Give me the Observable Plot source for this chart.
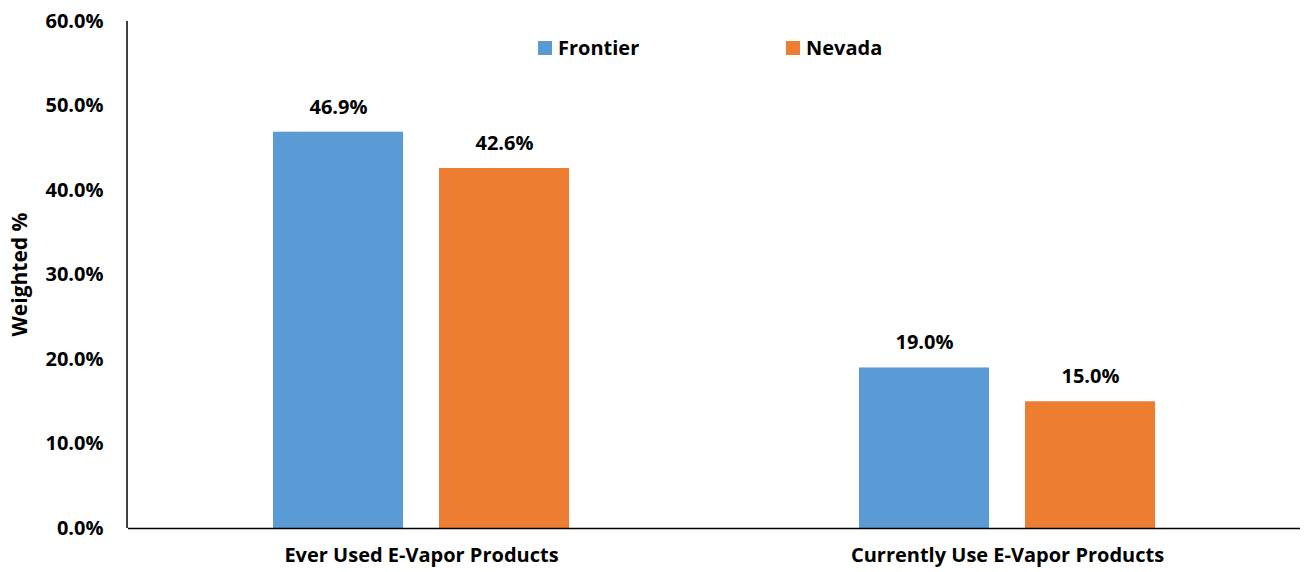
<!DOCTYPE html>
<html>
<head>
<meta charset="utf-8">
<script src="https://cdn.jsdelivr.net/npm/d3@7"></script>
<script src="https://cdn.jsdelivr.net/npm/@observablehq/plot@0.6"></script>
<style>
  body { margin: 0; background: #fff; }
  #wrap { position: relative; width: 1308px; height: 572px; font-family: "Open Sans", sans-serif; }
  #legend { position: absolute; top: 34px; left: 0; width: 1308px; height: 28px; font-weight: bold; font-size: 20px; color: #000; }
  .item { position: absolute; display: flex; align-items: center; }
  .sw { width: 14px; height: 14px; margin-right: 6px; }
</style>
</head>
<body>
<div id="wrap">
  <div id="chart"></div>
  <div id="legend"></div>
</div>
<script>
const categories = ["Ever Used E-Vapor Products", "Currently Use E-Vapor Products"];
const series = ["Frontier", "Nevada"];
const frontierValues = [46.9, 19.0];
const nevadaValues = [42.6, 15.0];
const colors = ["#5B9BD5", "#ED7D31"];
const yTicks = [0, 10, 20, 30, 40, 50, 60];

const data = [];
categories.forEach((c, i) => {
  data.push({category: c, series: series[0], value: frontierValues[i]});
  data.push({category: c, series: series[1], value: nevadaValues[i]});
});

const marginLeft = 127, marginRight = 8, marginTop = 21, marginBottom = 44;
const font = "'Open Sans', sans-serif";
const fs = 20;

const chart = Plot.plot({
  width: 1308,
  height: 572,
  marginLeft, marginRight, marginTop, marginBottom,
  style: {fontFamily: font, fontSize: fs + "px", fontWeight: "bold", color: "#000", background: "#fff"},
  fx: {domain: categories, padding: 0, label: null},
  x: {domain: series, paddingInner: 0.2156, paddingOuter: 0.865, axis: null},
  y: {domain: [0, 60], label: null},
  color: {domain: series, range: colors},
  marks: [
    Plot.axisY(yTicks, {tickFormat: d => d.toFixed(1) + "%", tickSize: 0, tickPadding: 25, fontSize: fs, fontWeight: "bold", fill: "#000", label: null}),
    Plot.axisFx({anchor: "bottom", tickSize: 0, tickPadding: 19, fontSize: fs, fontWeight: "bold", fill: "#000", label: null}),
    Plot.barY(data, {fx: "category", x: "series", y: "value", fill: "series"}),
    Plot.text(data, {fx: "category", x: "series", y: "value", text: d => d.value.toFixed(1) + "%", dy: -25, fontSize: fs, fontWeight: "bold", fill: "#000"}),
    Plot.ruleY([0], {stroke: "#000", strokeWidth: 1.5})
  ]
});
document.getElementById("chart").appendChild(chart);

// y axis line and title, from the y scale
const ys = chart.scale("y");
const svg = d3.select(chart);
svg.append("line")
  .attr("x1", marginLeft).attr("x2", marginLeft)
  .attr("y1", ys.range[1]).attr("y2", ys.range[0])
  .attr("stroke", "#000").attr("stroke-width", 1.5);
const yMid = (ys.range[0] + ys.range[1]) / 2;
svg.append("text")
  .attr("transform", `translate(27,${yMid}) rotate(-90)`)
  .attr("text-anchor", "middle")
  .attr("font-size", 21).attr("font-weight", "bold").attr("fill", "#000")
  .attr("font-family", font)
  .text("Weighted %");

// legend
const legend = document.getElementById("legend");
const legendLeft = [538, 786];
series.forEach((s, i) => {
  const it = document.createElement("div");
  it.className = "item";
  it.style.left = legendLeft[i] + "px";
  it.innerHTML = `<span class="sw" style="background:${colors[i]}"></span><span>${s}</span>`;
  legend.appendChild(it);
});
</script>
</body>
</html>
